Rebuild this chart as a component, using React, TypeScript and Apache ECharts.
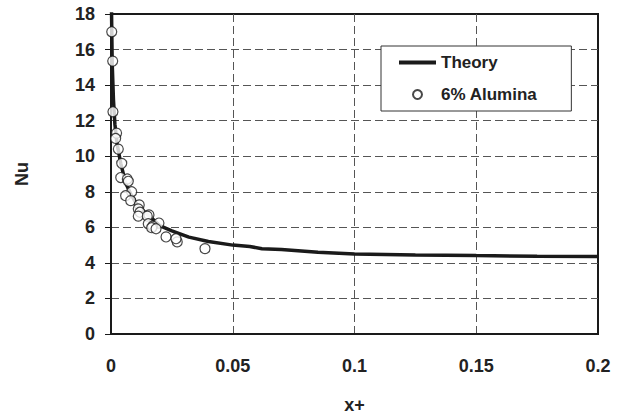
import React, { useEffect, useRef } from "react";
import * as echarts from "echarts";

const theoryX = [0.0002, 0.0005, 0.001, 0.0016, 0.0025, 0.004, 0.006, 0.008, 0.011, 0.016, 0.02, 0.025, 0.032, 0.04, 0.05, 0.057, 0.062, 0.07, 0.085, 0.1, 0.125, 0.15, 0.175, 0.2];
const theoryY = [18.3, 15.2, 13.2, 11.8, 10.7, 9.6, 8.5, 7.9, 7.2, 6.6, 6.1, 5.8, 5.45, 5.2, 5.0, 4.92, 4.8, 4.75, 4.6, 4.5, 4.45, 4.41, 4.38, 4.36];

const aluminaX = [0.0003, 0.0007, 0.0008, 0.0023, 0.0019, 0.003, 0.0044, 0.004, 0.0067, 0.0071, 0.0085, 0.006, 0.0081, 0.0116, 0.0112, 0.0119, 0.0112, 0.0156, 0.0149, 0.0153, 0.0197, 0.0171, 0.0167, 0.0185, 0.0226, 0.0272, 0.0267, 0.0386];
const aluminaY = [17.0, 15.35, 12.5, 11.3, 11.0, 10.4, 9.6, 8.8, 8.72, 8.59, 8.0, 7.78, 7.5, 7.26, 7.04, 6.85, 6.63, 6.7, 6.63, 6.2, 6.24, 6.07, 5.98, 5.92, 5.46, 5.18, 5.36, 4.8];

const seriesNames = ["Theory", "6% Alumina"];
const xAxisName = "x+";
const yAxisName = "Nu";

export default function App() {
  const ref = useRef<HTMLDivElement>(null);
  useEffect(() => {
    if (!ref.current) return;
    const chart = echarts.init(ref.current, undefined, { renderer: "svg" });
    const font = "Liberation Sans, Arial, sans-serif";
    const txt = { fontFamily: font, fontWeight: "bold", fontSize: 18, color: "#222" };
    chart.setOption({
      animation: false,
      backgroundColor: "#fff",
      grid: {
        left: 111,
        right: 28,
        top: 14,
        bottom: 83,
        show: true,
        borderColor: "#1a1a1a",
        borderWidth: 2,
        backgroundColor: "transparent",
      },
      legend: {
        orient: "vertical",
        left: 381,
        top: 46,
        backgroundColor: "#fff",
        borderColor: "#333",
        borderWidth: 1,
        padding: [8, 34, 8, 16],
        itemGap: 15,
        itemWidth: 37,
        itemHeight: 9,
        textStyle: { ...txt, fontSize: 17 },
        data: [
          { name: seriesNames[0], itemStyle: { opacity: 0 }, lineStyle: { width: 4, color: "#1a1a1a" } },
          { name: seriesNames[1] },
        ],
      },
      xAxis: {
        type: "value",
        min: 0,
        max: 0.2,
        interval: 0.05,
        name: xAxisName,
        nameLocation: "middle",
        nameGap: 62,
        nameTextStyle: txt,
        axisLine: { show: true, onZero: false, lineStyle: { color: "#1a1a1a", width: 2 } },
        axisTick: { show: false },
        axisLabel: { margin: 23, ...txt },
        splitLine: {
          show: true,
          showMinLine: false,
          showMaxLine: false,
          lineStyle: { color: "#555", type: [8, 4], width: 1 },
        },
      },
      yAxis: {
        type: "value",
        min: 0,
        max: 18,
        interval: 2,
        name: yAxisName,
        nameLocation: "middle",
        nameGap: 80,
        nameRotate: 90,
        nameTextStyle: txt,
        axisLine: { show: true, onZero: false, lineStyle: { color: "#1a1a1a", width: 2 } },
        axisTick: { show: true, length: 6, lineStyle: { color: "#1a1a1a", width: 1 } },
        axisLabel: { margin: 16, ...txt },
        splitLine: {
          show: true,
          showMinLine: false,
          showMaxLine: false,
          lineStyle: { color: "#555", type: [8, 4], width: 1 },
        },
      },
      series: [
        {
          name: seriesNames[0],
          type: "line",
          data: theoryX.map((x, i) => [x, theoryY[i]]),
          showSymbol: false,
          symbol: "none",
          smooth: false,
          clip: true,
          lineStyle: { color: "#1a1a1a", width: 3.5 },
          itemStyle: { color: "#1a1a1a" },
          z: 2,
        },
        {
          name: seriesNames[1],
          type: "scatter",
          data: aluminaX.map((x, i) => [x, aluminaY[i]]),
          symbol: "circle",
          symbolSize: 10,
          itemStyle: { color: "#fff", borderColor: "#1a1a1a", borderWidth: 1.2 },
          z: 3,
        },
      ],
    });
    return () => chart.dispose();
  }, []);
  return <div ref={ref} style={{ width: 626, height: 419, position: "absolute", left: 0, top: 0 }} />;
}
